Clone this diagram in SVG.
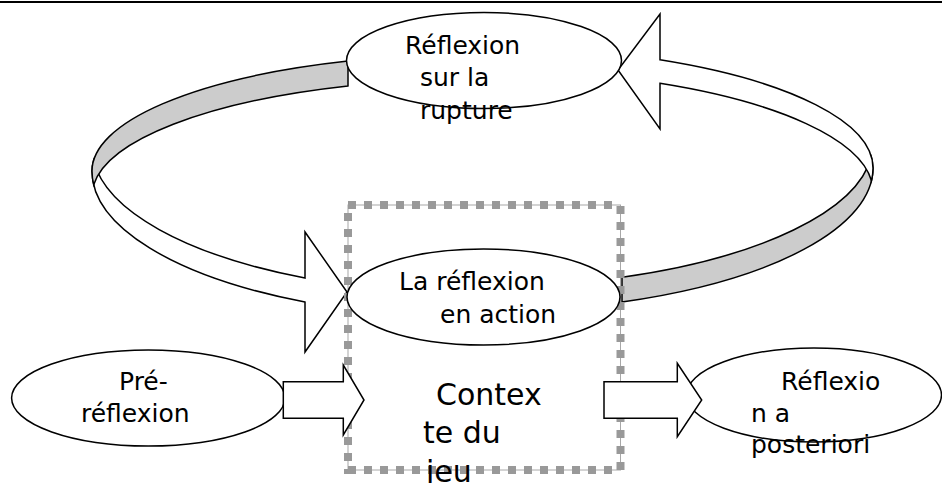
<svg xmlns="http://www.w3.org/2000/svg" width="942" height="483" viewBox="0 0 942 483">
  <style>
    .shape { fill: #ffffff; stroke: #000000; stroke-width: 1.5; stroke-linejoin: miter; }
    .band { fill: #cccccc; stroke: #000000; stroke-width: 1.5; }
    .label { font-family: "DejaVu Sans", Verdana, sans-serif; font-size: 25px; fill: #000000; }
    .big { font-size: 30px; }
    .frame-line { fill: none; stroke: #a8a8a8; stroke-width: 1; }
    .frame-dots { fill: none; stroke: #999999; stroke-width: 8; stroke-dasharray: 8 8; }
  </style>

  <!-- page rule along the top -->
  <line x1="0" y1="2" x2="942" y2="2" stroke="#000000" stroke-width="2"/>

  <!-- twisted loop arrows between the reflection phases -->
  <g id="connectors">
    <!-- left loop: white front face with arrowhead, then the grey back face on top -->
    <path class="shape" d="M93.6,160.4 A388,116.9 0 0 0 92,171 A388,146.8 0 0 0 305,302 L305,352 L347,292 L305,232 L305,278 A388,146.8 0 0 1 93.6,160.4 Z"/>
    <path class="band" d="M348,61.1 A388,116.9 0 0 0 92,171 A388,146.8 0 0 0 93.7,184.8 A388,116.9 0 0 1 348,85.9 Z"/>
    <!-- right loop: grey back face, then the white front face with arrowhead on top -->
    <path class="band" d="M622,302 A393,143.7 0 0 0 873,168 A393,121.7 0 0 0 871.3,156.7 A393,143.7 0 0 1 622,277.3 Z"/>
    <path class="shape" d="M871.5,180.7 A393,143.7 0 0 0 873,168 A393,121.7 0 0 0 660,59.8 L660,14 L618,70 L660,129 L660,83.3 A393,121.7 0 0 1 871.5,180.7 Z"/>
  </g>

  <!-- game context frame -->
  <g id="contexte-du-jeu">
    <rect class="frame-line" x="348" y="205" width="272.5" height="265"/>
    <path class="frame-dots" d="M348,205 H620"/>
    <path class="frame-dots" d="M348,213 V474"/>
    <path class="frame-dots" d="M620.5,206 V474"/>
    <path class="frame-dots" d="M348,470 H616"/>
  </g>

  <g id="reflexion-rupture">
    <ellipse class="shape" cx="484" cy="60.5" rx="137.5" ry="48"/>
    <text class="label" x="405" y="53.5">Réflexion</text>
    <text class="label" x="420" y="86">sur la</text>
    <text class="label" x="420" y="118.5">rupture</text>
  </g>

  <g id="reflexion-action">
    <ellipse class="shape" cx="483.5" cy="297" rx="136.5" ry="48"/>
    <text class="label" x="399" y="290">La réflexion</text>
    <text class="label" x="440" y="323">en action</text>
  </g>

  <g id="pre-reflexion">
    <ellipse class="shape" cx="148.3" cy="398" rx="136.7" ry="48"/>
    <text class="label" x="119" y="390">Pré-</text>
    <text class="label" x="81" y="421.7">réflexion</text>
  </g>

  <g id="reflexion-posteriori">
    <ellipse class="shape" cx="814" cy="395" rx="127.5" ry="47"/>
  </g>

  <!-- straight block arrows into and out of the context frame -->
  <g id="arrows">
    <path class="shape" d="M283.3,381.7 H343.3 V365 L364,400 L343.3,435 V418.3 H283.3 Z"/>
    <path class="shape" d="M604,381.7 H677.3 V363.3 L701.7,400 L677.3,436.7 V418.3 H604 Z"/>
  </g>

  <g id="labels">
    <text class="label big" x="436" y="405">Contex</text>
    <text class="label big" x="423" y="443.3">te du</text>
    <text class="label big" x="426" y="481.5">jeu</text>
    <text class="label" x="781" y="390">Réflexio</text>
    <text class="label" x="751" y="421.7">n a</text>
    <text class="label" x="751" y="453.3">posteriori</text>
  </g>
</svg>
